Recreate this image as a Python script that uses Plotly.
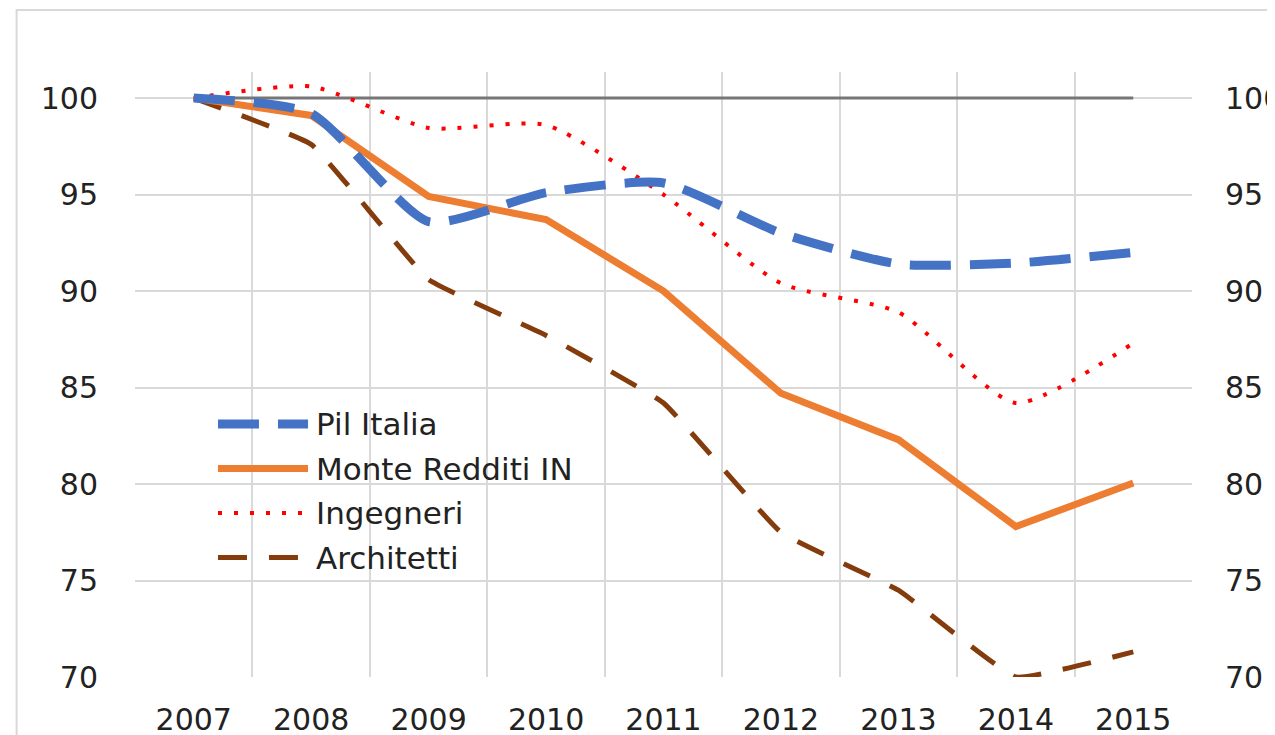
import plotly.graph_objects as go

# data (index, 2007 = 100)
years = ["2007", "2008", "2009", "2010", "2011", "2012", "2013", "2014", "2015"]
pil_italia = [100, 99.2, 93.6, 95.1, 95.6, 93.0, 91.4, 91.45, 92.0]
monte_redditi = [100, 99.1, 94.9, 93.7, 90.0, 84.7, 82.3, 77.8, 80.05]
ingegneri = [100, 100.6, 98.45, 98.6, 95.0, 90.4, 88.9, 84.2, 87.3]
architetti = [100, 97.6, 90.6, 87.7, 84.2, 77.5, 74.5, 70.0, 71.3]
base_line = [100] * len(years)

y_ticks = [70, 75, 80, 85, 90, 95, 100]

legend_names = ["Pil Italia", "Monte Redditi IN", "Ingegneri", "Architetti"]
legend_colors = ["#4472C4", "#ED7D31", "#FF0000", "#843C0C"]
legend_dash = ["41px,19px", "solid", "4px,12px", "29px,22px"]
legend_width = [9, 7, 4, 5]

FONT = "DejaVu Sans"
GRID = "#d9d9d9"

fig = go.Figure()

fig.add_trace(go.Scatter(
    x=years, y=base_line, mode="lines",
    line=dict(color="#767676", width=3), showlegend=False
))
fig.add_trace(go.Scatter(
    x=years, y=architetti, mode="lines",
    line=dict(color=legend_colors[3], width=legend_width[3], dash=legend_dash[3],
              shape="spline", smoothing=0.3),
    showlegend=False
))
fig.add_trace(go.Scatter(
    x=years, y=ingegneri, mode="lines",
    line=dict(color=legend_colors[2], width=legend_width[2], dash=legend_dash[2],
              shape="spline", smoothing=0.6),
    showlegend=False
))
fig.add_trace(go.Scatter(
    x=years, y=monte_redditi, mode="lines",
    line=dict(color=legend_colors[1], width=legend_width[1]),
    showlegend=False
))
fig.add_trace(go.Scatter(
    x=years, y=pil_italia, mode="lines",
    line=dict(color=legend_colors[0], width=legend_width[0], dash=legend_dash[0],
              shape="spline", smoothing=0.6),
    showlegend=False
))
# invisible trace to drive the right-hand axis
fig.add_trace(go.Scatter(
    x=years, y=base_line, mode="lines", yaxis="y2",
    line=dict(color="rgba(0,0,0,0)"), showlegend=False, hoverinfo="skip"
))

# hand-drawn legend inside the plot, like the original
shapes = []
annotations = []
for i, name in enumerate(legend_names):
    yy = 0.418 - i * 0.0735
    shapes.append(dict(
        type="line", xref="paper", yref="paper",
        x0=0.0785, x1=0.1637, y0=yy, y1=yy,
        line=dict(color=legend_colors[i], width=legend_width[i], dash=legend_dash[i])
    ))
    annotations.append(dict(
        text=name, xref="paper", yref="paper", x=0.1693, y=yy,
        xanchor="left", yanchor="middle", showarrow=False,
        font=dict(family=FONT, size=31, color="#222")
    ))

# chart-area border
shapes.append(dict(
    type="rect", xref="paper", yref="paper",
    x0=-0.112, x1=1.3, y0=-0.3, y1=1.1025,
    line=dict(color=GRID, width=2), layer="below"
))

fig.update_layout(
    width=1275, height=735,
    margin=dict(l=127, r=91, t=64, b=66),
    paper_bgcolor="white", plot_bgcolor="white",
    font=dict(family=FONT, size=30, color="#222"),
    shapes=shapes, annotations=annotations,
    showlegend=False,
    xaxis=dict(
        type="category", range=[-0.5, 8.5],
        tickson="boundaries", showgrid=True, gridcolor=GRID, gridwidth=2,
        ticks="", ticklabelstandoff=22,
        showline=False, zeroline=False, automargin=False
    ),
    yaxis=dict(
        range=[70, 101.35], tickvals=y_ticks,
        showgrid=True, gridcolor=GRID, gridwidth=2,
        ticks="outside", ticklen=30, tickcolor="rgba(0,0,0,0)",
        showline=False, zeroline=False, automargin=False
    ),
    yaxis2=dict(
        range=[70, 101.35], tickvals=y_ticks, overlaying="y", side="right",
        showgrid=False, ticks="outside", ticklen=26, tickcolor="rgba(0,0,0,0)",
        showline=False, zeroline=False, automargin=False
    ),
)

fig.write_html("out.html")
